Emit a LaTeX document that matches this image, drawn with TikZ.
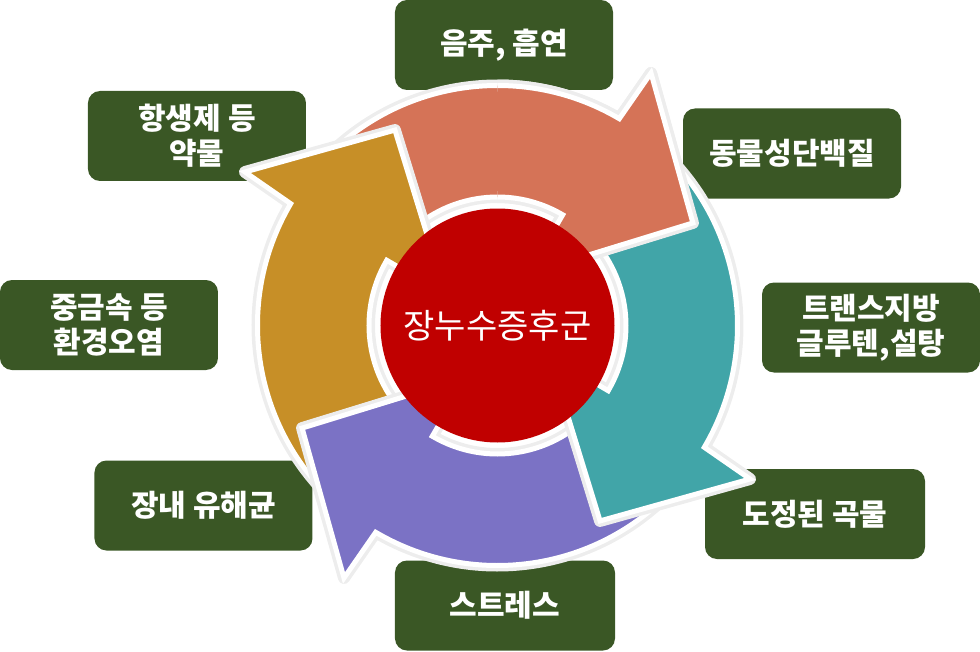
\documentclass[tikz,border=0pt]{standalone}
\usepackage{fontspec}
\setmainfont{Noto Sans CJK KR}
\definecolor{arOrange}{HTML}{D57357}
\definecolor{arTeal}{HTML}{41A5A8}
\definecolor{arPurple}{HTML}{7B72C5}
\definecolor{arGold}{HTML}{C78F27}
\definecolor{coreRed}{HTML}{C00000}
\definecolor{boxGreen}{HTML}{3A5725}
\tikzset{
  arrowshape/.style={insert path={
    (140+#1:128.5) -- (140+#1:240)
    arc[start angle=140+#1, end angle=59.5+#1, radius=240]
    -- (58.7+#1:295.5) -- (27.7+#1:220.7) -- (59.3+#1:60.5)
    -- (59.5+#1:128.5)
    arc[start angle=59.5+#1, end angle=140+#1, radius=128.5] -- cycle}},
  glowline/.style={draw=black!7, line width=12pt, line join=round},
  arrowbody/.style={fill=#1, draw=white, line width=5pt, line join=miter},
  infobox/.style={rectangle, rounded corners=12pt, fill=boxGreen,
    minimum width=218pt, minimum height=90pt, text=white, align=center,
    font=\bfseries\fontsize{30pt}{35pt}\selectfont, inner sep=0pt},
}
\begin{document}
\begin{tikzpicture}[x=1pt, y=1pt]
\useasboundingbox (-497.5,-325.5) rectangle (482.5,325.5);
% boxes
\node[infobox] (b1) at (6.5,280.5) {음주, 흡연};
\node[infobox] (b2) at (294.5,172) {동물성단백질};
\node[infobox] (b3) at (373.5,-2) {트랜스지방\\글루텐,설탕};
\node[infobox, minimum width=220pt] (b4) at (317.5,-188.5) {도정된 곡물};
\node[infobox, minimum width=220pt] (b5) at (7.5,-280) {스트레스};
\node[infobox] (b6) at (-294,-180) {장내 유해균};
\node[infobox] (b7) at (-388.5,0.5) {중금속 등\\환경오염};
\node[infobox] (b8) at (-300.5,189.5) {항생제 등\\약물};
% arrows
\path[glowline, arrowshape=0];
\path[arrowbody=arOrange, arrowshape=0];
\path[glowline, arrowshape=90];
\path[arrowbody=arGold, arrowshape=90];
\path[glowline, arrowshape=180];
\path[arrowbody=arPurple, arrowshape=180];
\path[glowline, arrowshape=-90];
\path[arrowbody=arTeal, arrowshape=-90];
\begin{scope}
  \clip (0,0) rectangle (400,330);
  \path[glowline, arrowshape=0];
  \path[arrowbody=arOrange, arrowshape=0];
\end{scope}
% core
\node[circle, fill=coreRed, minimum size=234pt, inner sep=0pt, text=white,
  font=\fontsize{34pt}{39pt}\selectfont] (core) at (0,0) {장누수증후군};
\end{tikzpicture}
\end{document}
